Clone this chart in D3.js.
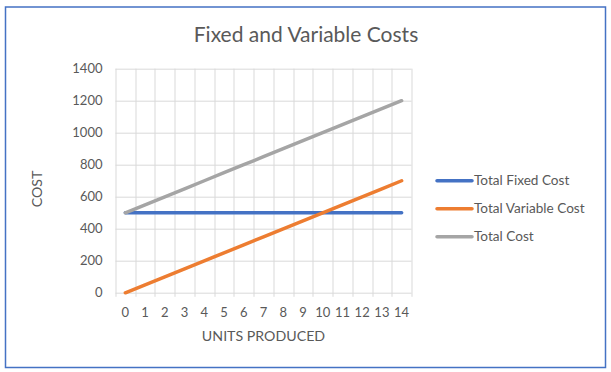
<!DOCTYPE html>
<html>
<head>
<meta charset="utf-8">
<script src="https://cdn.jsdelivr.net/npm/d3@7"></script>
<style>
  body { margin: 0; background: #fff; }
  text { font-family: Lato, "Open Sans", sans-serif; fill: #595959; }
</style>
</head>
<body>
<div id="chart"></div>
<script>
// data
var units = [0, 1, 2, 3, 4, 5, 6, 7, 8, 9, 10, 11, 12, 13, 14];
var fixedCost = [500, 500, 500, 500, 500, 500, 500, 500, 500, 500, 500, 500, 500, 500, 500];
var variableCost = [0, 50, 100, 150, 200, 250, 300, 350, 400, 450, 500, 550, 600, 650, 700];
var totalCost = [500, 550, 600, 650, 700, 750, 800, 850, 900, 950, 1000, 1050, 1100, 1150, 1200];
var yTicks = [0, 200, 400, 600, 800, 1000, 1200, 1400];
var seriesNames = ["Total Fixed Cost", "Total Variable Cost", "Total Cost"];
var seriesColors = ["#4472C4", "#ED7D31", "#A5A5A5"];

var W = 611, H = 372;
var margin = { top: 68.7, right: 199.5, bottom: 79.2, left: 115.5 },
    width = W - margin.left - margin.right,
    height = H - margin.top - margin.bottom;

var svg = d3.select("#chart")
    .append("svg")
    .attr("width", W)
    .attr("height", H);

// outer border
svg.append("rect")
    .attr("x", 5.5)
    .attr("y", 7)
    .attr("width", 600)
    .attr("height", 360.5)
    .style("fill", "#fff")
    .style("stroke", "#4472C4")
    .style("stroke-width", 1.5);

var g = svg.append("g")
    .attr("transform", "translate(" + margin.left + "," + margin.top + ")");

var xBand = d3.scaleBand()
    .domain(units)
    .range([0, width])
    .padding(0);

var xAxis = function(d) { return xBand(d) + xBand.bandwidth() / 2; };

var yAxis = d3.scaleLinear()
    .domain([0, 1400])
    .range([height, 0]);

// horizontal gridlines
g.append("g")
    .selectAll("line")
    .data(yTicks)
    .enter()
    .append("line")
    .attr("x1", 0)
    .attr("x2", width)
    .attr("y1", d => Math.round(yAxis(d)) + 0.5)
    .attr("y2", d => Math.round(yAxis(d)) + 0.5)
    .style("stroke", "#D9D9D9")
    .style("stroke-width", 1);

// vertical gridlines between categories (ticks poke below the axis)
var bounds = units.map(d => xBand(d)).concat([width]);
g.append("g")
    .selectAll("line")
    .data(bounds)
    .enter()
    .append("line")
    .attr("x1", d => Math.round(d) + 0.5)
    .attr("x2", d => Math.round(d) + 0.5)
    .attr("y1", 0)
    .attr("y2", height + 4)
    .style("stroke", "#D9D9D9")
    .style("stroke-width", 1);

// y tick labels
g.append("g")
    .selectAll("text")
    .data(yTicks)
    .enter()
    .append("text")
    .attr("x", -13)
    .attr("y", d => yAxis(d))
    .attr("dy", "0.35em")
    .style("text-anchor", "end")
    .style("font-size", "13px")
    .text(d => d);

// x tick labels
g.append("g")
    .selectAll("text")
    .data(units)
    .enter()
    .append("text")
    .attr("x", d => xAxis(d))
    .attr("y", height + 20)
    .attr("dy", "0.35em")
    .style("text-anchor", "middle")
    .style("font-size", "13px")
    .text(d => d);

// axis titles
svg.append("text")
    .attr("x", margin.left + width / 2)
    .attr("y", 336)
    .attr("dy", "0.35em")
    .style("text-anchor", "middle")
    .style("font-size", "14.2px")
    .text("UNITS PRODUCED");

svg.append("text")
    .attr("transform", "translate(37,189) rotate(-90)")
    .attr("dy", "0.35em")
    .style("text-anchor", "middle")
    .style("font-size", "14.2px")
    .text("COST");

// title
svg.append("text")
    .attr("x", 306)
    .attr("y", 35)
    .attr("dy", "0.35em")
    .style("text-anchor", "middle")
    .style("font-size", "21px")
    .text("Fixed and Variable Costs");

// lines
var series = [fixedCost, variableCost, totalCost];
var valueline = d3.line()
    .x((d, i) => xAxis(units[i]))
    .y(d => yAxis(d));

g.selectAll(".series")
    .data(series)
    .enter()
    .append("path")
    .attr("class", "series")
    .attr("d", valueline)
    .style("fill", "none")
    .style("stroke", (d, i) => seriesColors[i])
    .style("stroke-width", 3.5)
    .style("stroke-linecap", "round")
    .style("stroke-linejoin", "round");

// legend
var legend = svg.append("g")
    .selectAll("g")
    .data(seriesNames)
    .enter()
    .append("g")
    .attr("transform", (d, i) => "translate(437," + (180.7 + i * 28) + ")");

legend.append("line")
    .attr("x1", 0)
    .attr("x2", 35)
    .style("stroke", (d, i) => seriesColors[i])
    .style("stroke-width", 3.5)
    .style("stroke-linecap", "round");

legend.append("text")
    .attr("x", 37)
    .attr("dy", "0.35em")
    .style("font-size", "13.6px")
    .text(d => d);
</script>
</body>
</html>
